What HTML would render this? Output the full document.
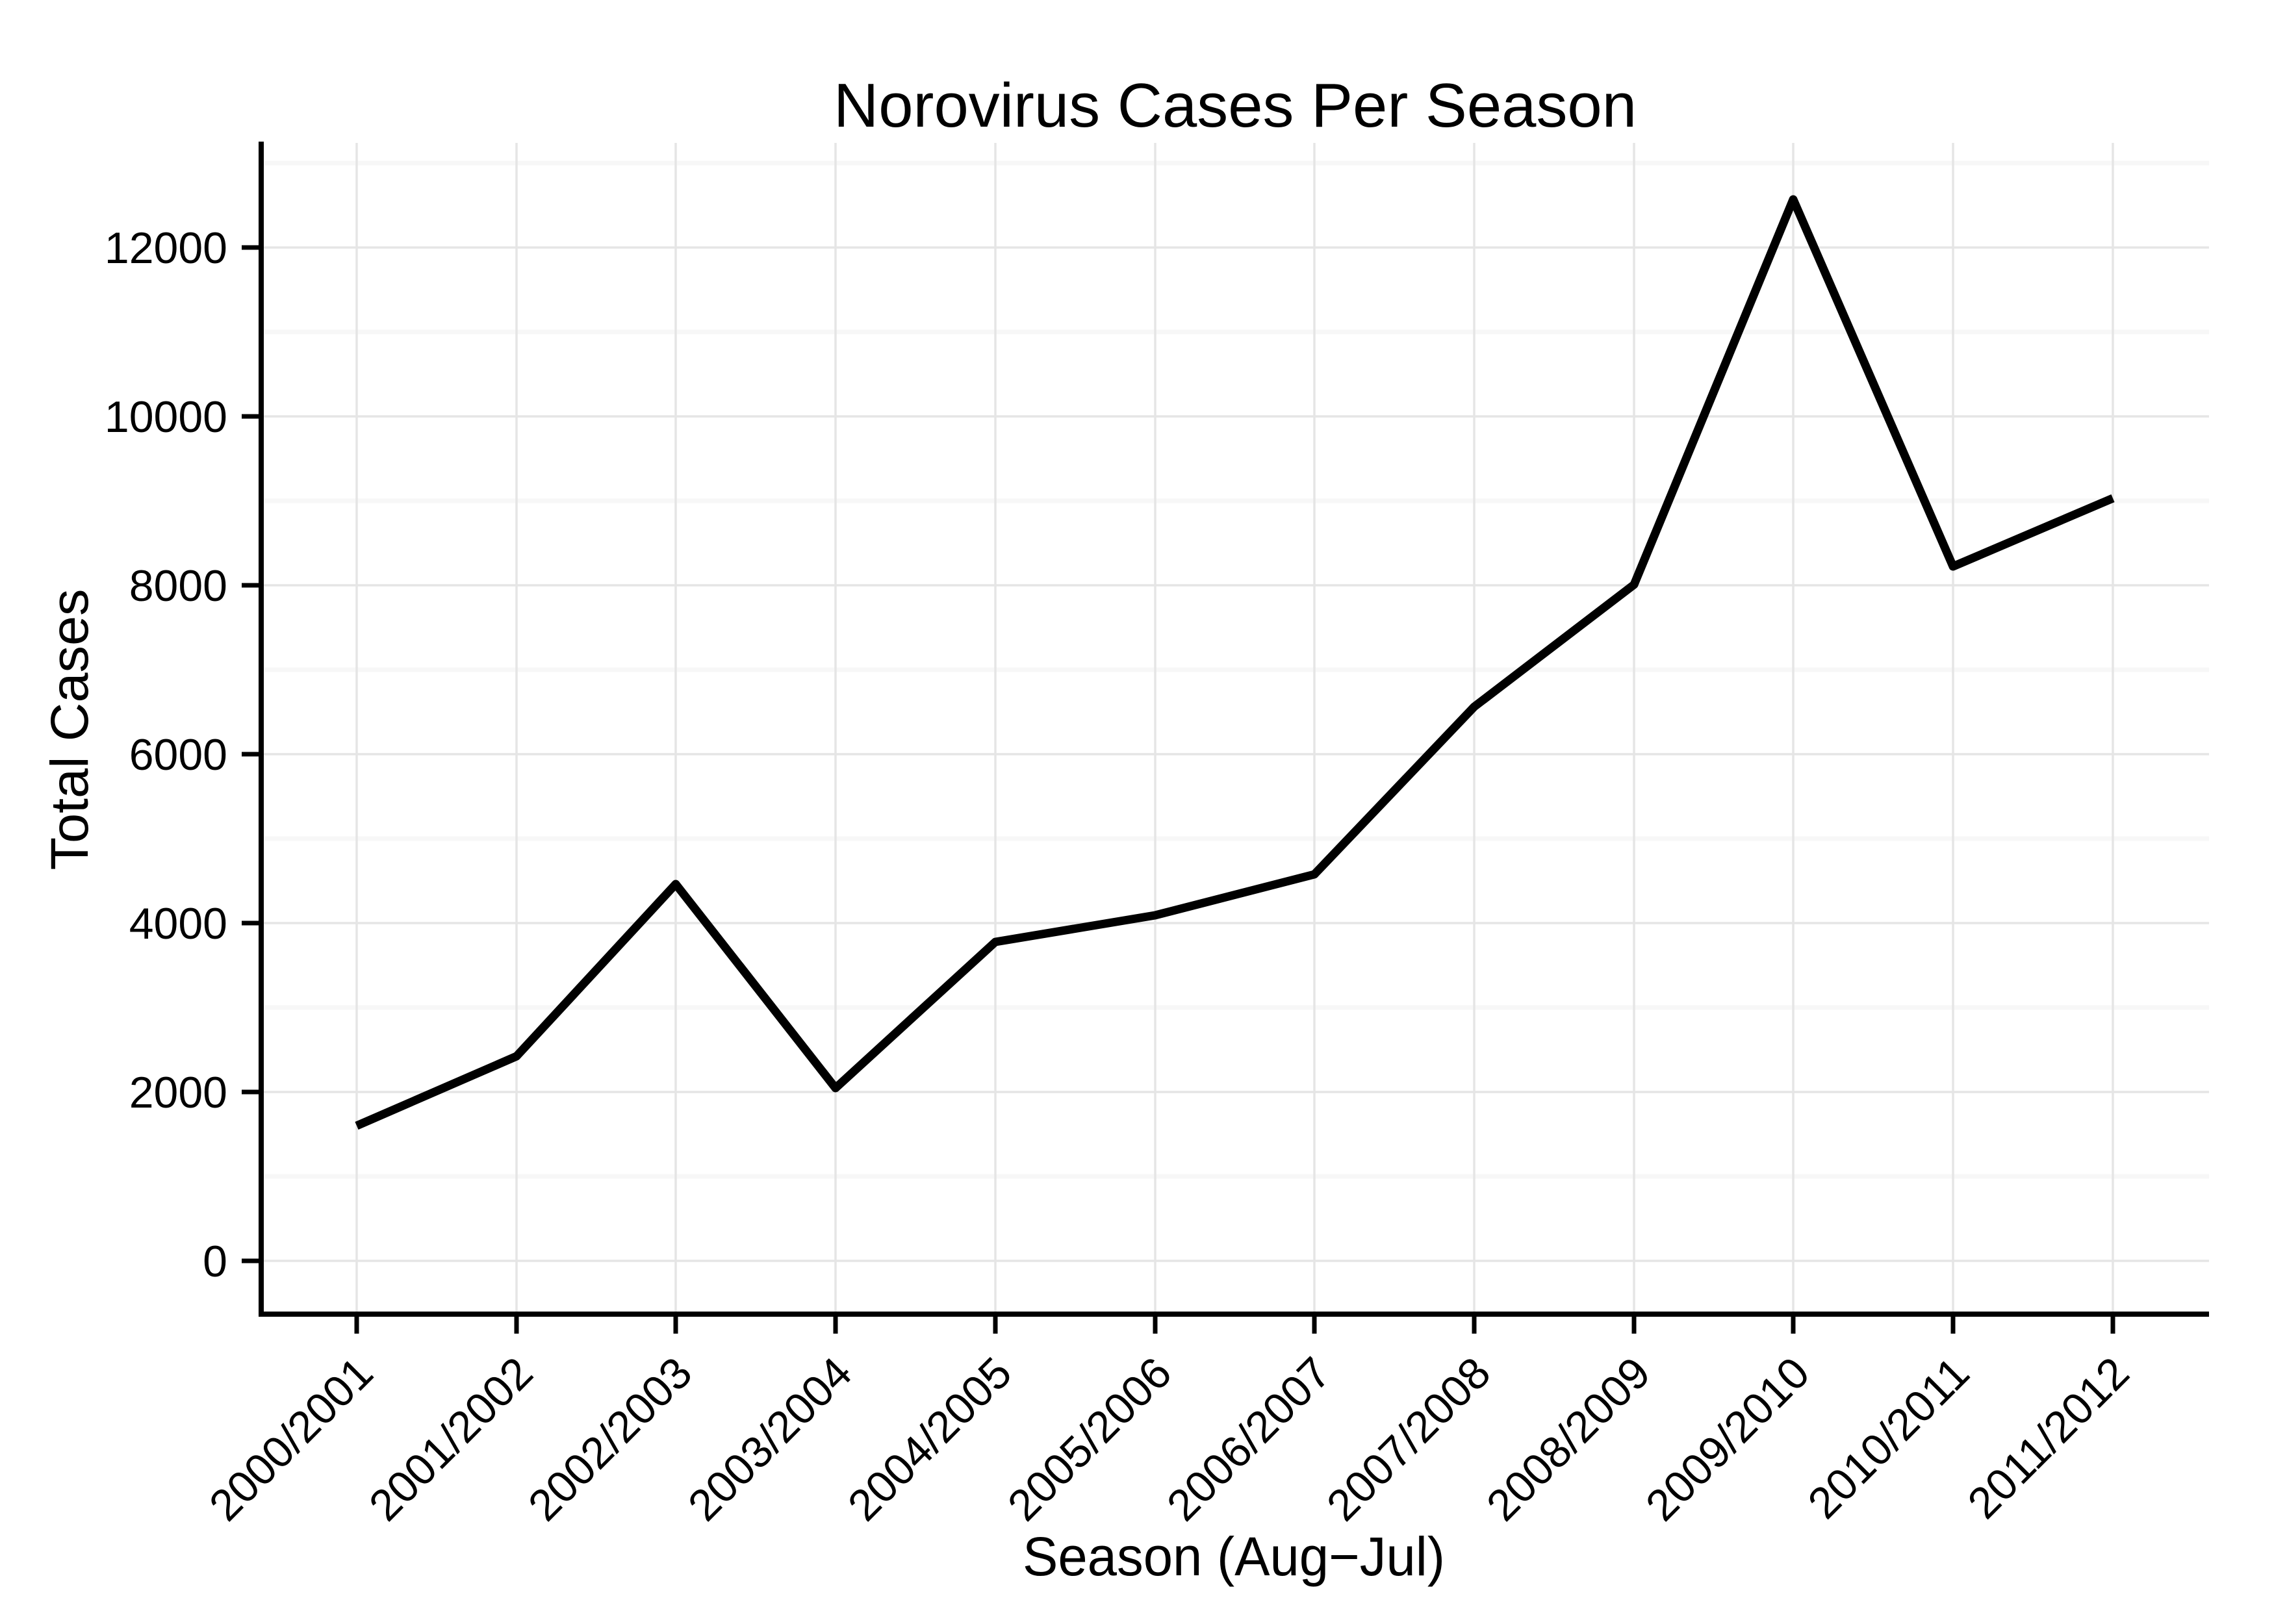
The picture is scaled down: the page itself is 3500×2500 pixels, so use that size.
<!DOCTYPE html>
<html><head><meta charset="utf-8"><style>
html,body{margin:0;padding:0;background:#fff;}
svg{display:block;}
text{font-family:"Liberation Sans",Arial,sans-serif;fill:#000;}
</style></head><body>
<svg width="3500" height="2500" viewBox="0 0 3500 2500" xmlns="http://www.w3.org/2000/svg">
<rect width="3500" height="2500" fill="#fff"/>
<g stroke="#f7f7f7" stroke-width="7">
<line x1="405" x2="3400" y1="1811" y2="1811"/>
<line x1="405" x2="3400" y1="1551" y2="1551"/>
<line x1="405" x2="3400" y1="1291" y2="1291"/>
<line x1="405" x2="3400" y1="1031" y2="1031"/>
<line x1="405" x2="3400" y1="771" y2="771"/>
<line x1="405" x2="3400" y1="511" y2="511"/>
<line x1="405" x2="3400" y1="251" y2="251"/>
</g>
<g stroke="#e5e5e5" stroke-width="3.5">
<line x1="405" x2="3400" y1="1941" y2="1941"/>
<line x1="405" x2="3400" y1="1681" y2="1681"/>
<line x1="405" x2="3400" y1="1421" y2="1421"/>
<line x1="405" x2="3400" y1="1161" y2="1161"/>
<line x1="405" x2="3400" y1="901" y2="901"/>
<line x1="405" x2="3400" y1="641" y2="641"/>
<line x1="405" x2="3400" y1="381" y2="381"/>
<line x1="549" x2="549" y1="220" y2="2020"/>
<line x1="795" x2="795" y1="220" y2="2020"/>
<line x1="1040" x2="1040" y1="220" y2="2020"/>
<line x1="1286" x2="1286" y1="220" y2="2020"/>
<line x1="1532" x2="1532" y1="220" y2="2020"/>
<line x1="1778" x2="1778" y1="220" y2="2020"/>
<line x1="2023" x2="2023" y1="220" y2="2020"/>
<line x1="2269" x2="2269" y1="220" y2="2020"/>
<line x1="2515" x2="2515" y1="220" y2="2020"/>
<line x1="2760" x2="2760" y1="220" y2="2020"/>
<line x1="3006" x2="3006" y1="220" y2="2020"/>
<line x1="3252" x2="3252" y1="220" y2="2020"/>
</g>
<g stroke="#000" stroke-width="8" fill="none">
<polyline points="402,218 402,2023 3400,2023"/>
<g stroke-width="7">
<line x1="372" x2="402" y1="1941" y2="1941"/>
<line x1="372" x2="402" y1="1681" y2="1681"/>
<line x1="372" x2="402" y1="1421" y2="1421"/>
<line x1="372" x2="402" y1="1161" y2="1161"/>
<line x1="372" x2="402" y1="901" y2="901"/>
<line x1="372" x2="402" y1="641" y2="641"/>
<line x1="372" x2="402" y1="381" y2="381"/>
<line x1="549" x2="549" y1="2023" y2="2053"/>
<line x1="795" x2="795" y1="2023" y2="2053"/>
<line x1="1040" x2="1040" y1="2023" y2="2053"/>
<line x1="1286" x2="1286" y1="2023" y2="2053"/>
<line x1="1532" x2="1532" y1="2023" y2="2053"/>
<line x1="1778" x2="1778" y1="2023" y2="2053"/>
<line x1="2023" x2="2023" y1="2023" y2="2053"/>
<line x1="2269" x2="2269" y1="2023" y2="2053"/>
<line x1="2515" x2="2515" y1="2023" y2="2053"/>
<line x1="2760" x2="2760" y1="2023" y2="2053"/>
<line x1="3006" x2="3006" y1="2023" y2="2053"/>
<line x1="3252" x2="3252" y1="2023" y2="2053"/>
</g>
</g>
<polyline fill="none" stroke="#000" stroke-width="13" stroke-linejoin="round"
points="549,1733 795,1626 1040,1361 1286,1675 1532,1450 1778,1409 2023,1346 2269,1088 2515,900 2760,307 3006,872 3252,767"/>
<g font-size="68" text-anchor="end">
<text x="350" y="1965">0</text>
<text x="350" y="1705">2000</text>
<text x="350" y="1445">4000</text>
<text x="350" y="1185">6000</text>
<text x="350" y="925">8000</text>
<text x="350" y="665">10000</text>
<text x="350" y="405">12000</text>
</g>
<g font-size="68" text-anchor="end">
<text transform="translate(578,2118) rotate(-45)">2000/2001</text>
<text transform="translate(824,2118) rotate(-45)">2001/2002</text>
<text transform="translate(1069,2118) rotate(-45)">2002/2003</text>
<text transform="translate(1315,2118) rotate(-45)">2003/2004</text>
<text transform="translate(1561,2118) rotate(-45)">2004/2005</text>
<text transform="translate(1807,2118) rotate(-45)">2005/2006</text>
<text transform="translate(2052,2118) rotate(-45)">2006/2007</text>
<text transform="translate(2298,2118) rotate(-45)">2007/2008</text>
<text transform="translate(2544,2118) rotate(-45)">2008/2009</text>
<text transform="translate(2789,2118) rotate(-45)">2009/2010</text>
<text transform="translate(3035,2118) rotate(-45)">2010/2011</text>
<text transform="translate(3281,2118) rotate(-45)">2011/2012</text>
</g>
<text x="1901" y="195" font-size="96" text-anchor="middle" textLength="1236" lengthAdjust="spacingAndGlyphs">Norovirus Cases Per Season</text>
<text x="1899" y="2425" font-size="84" text-anchor="middle" textLength="650" lengthAdjust="spacingAndGlyphs">Season (Aug−Jul)</text>
<text transform="translate(135,1123) rotate(-90)" font-size="82" text-anchor="middle" textLength="433" lengthAdjust="spacingAndGlyphs">Total Cases</text>
</svg>
</body></html>
